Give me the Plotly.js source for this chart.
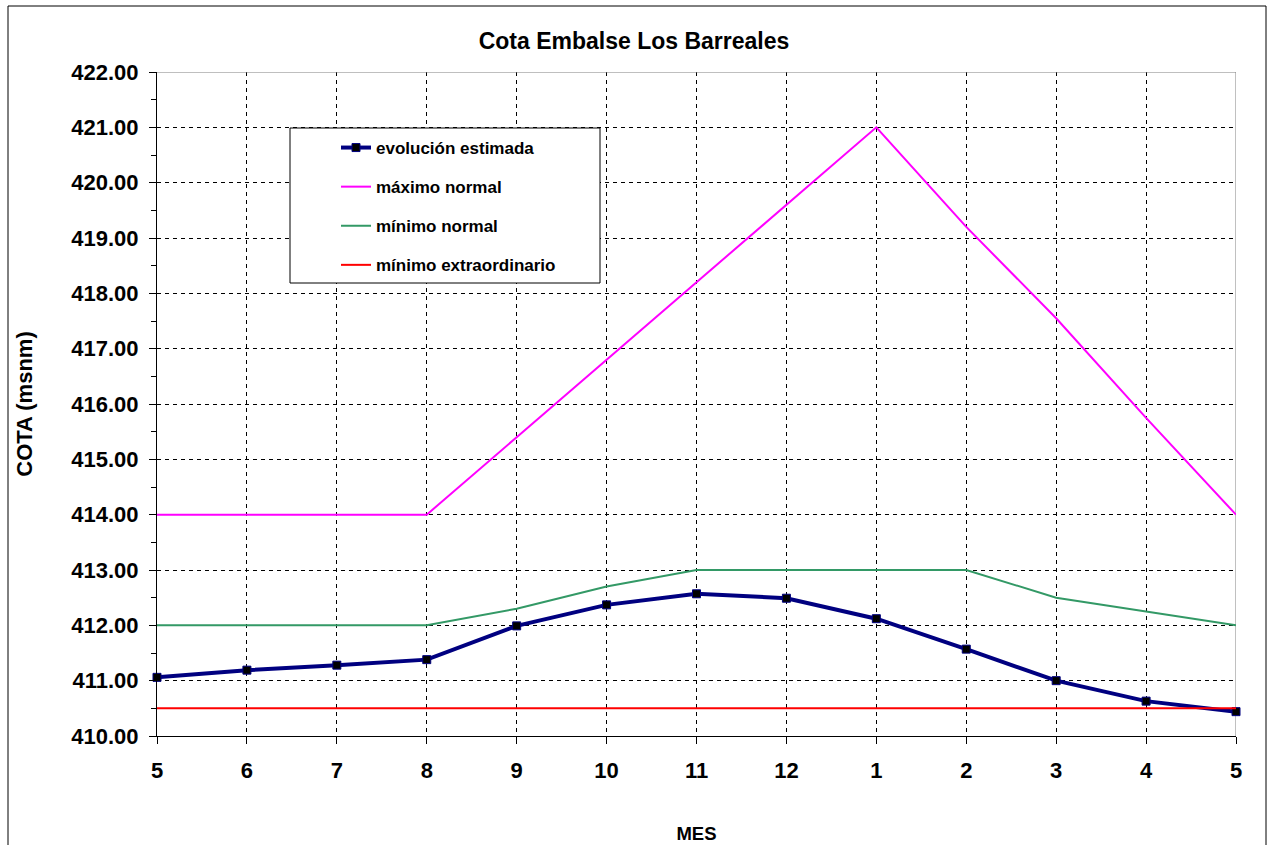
<!DOCTYPE html>
<html>
<head>
<meta charset="utf-8">
<script src="https://cdn.plot.ly/plotly-3.0.1.min.js"></script>
<style>html,body{margin:0;padding:0;background:#fff;}#chart{width:1268px;height:845px;}</style>
</head>
<body>
<div id="chart"></div>
<script>
const months = [5, 6, 7, 8, 9, 10, 11, 12, 1, 2, 3, 4, 5];
const evolucionEstimada = [411.06, 411.19, 411.28, 411.38, 411.99, 412.37, 412.57, 412.49, 412.12, 411.57, 411.00, 410.63, 410.44];
const maximoNormal = [414.0, 414.0, 414.0, 414.0, 415.4, 416.8, 418.2, 419.6, 421.0, 419.2, 417.55, 415.75, 414.0];
const minimoNormal = [412.0, 412.0, 412.0, 412.0, 412.3, 412.7, 413.0, 413.0, 413.0, 413.0, 412.5, 412.25, 412.0];
const minimoExtraordinario = [410.5, 410.5, 410.5, 410.5, 410.5, 410.5, 410.5, 410.5, 410.5, 410.5, 410.5, 410.5, 410.5];
const seriesNames = ['evolución estimada', 'máximo normal', 'mínimo normal', 'mínimo extraordinario'];
const tickLabels = months.map(String);

const xIdx = months.map((m, i) => i);
const FONT = 'Liberation Sans, Arial, sans-serif';

const traces = [
  {x: xIdx, y: evolucionEstimada, name: seriesNames[0], mode: 'lines+markers', legendgroup: 'a', cliponaxis: false,
   line: {color: '#000080', width: 4}, marker: {symbol: 'square', size: 8, color: '#000000', line: {color: '#000080', width: 1}}},
  {x: xIdx, y: maximoNormal, name: seriesNames[1], mode: 'lines', legendgroup: 'b',
   line: {color: '#FF00FF', width: 2}},
  {x: xIdx, y: minimoNormal, name: seriesNames[2], mode: 'lines', legendgroup: 'c',
   line: {color: '#339966', width: 2}},
  {x: xIdx, y: minimoExtraordinario, name: seriesNames[3], mode: 'lines', legendgroup: 'd',
   line: {color: '#FF0000', width: 2}}
];

const W = 1079, H = 664, L = 157, T = 72;
const px = v => (v - L) / W;
const py = v => (T + H - v) / H;
// pixel -> data helpers for decorative boxes
const dx = v => (v - L) / W * 12;
const dy = v => 422 - (v - T) / H * 12;

const layout = {
  width: 1268, height: 845,
  margin: {l: L, r: 32, t: T, b: 109},
  paper_bgcolor: '#ffffff', plot_bgcolor: '#ffffff',
  font: {family: FONT, color: '#000'},
  title: {text: '<b>Cota Embalse Los Barreales</b>', font: {family: FONT, size: 23, color: '#000'},
          x: 0.5, xref: 'container', xanchor: 'center', y: 1 - 41/845, yref: 'container', yanchor: 'middle'},
  xaxis: {
    range: [0, 12], tickmode: 'array', tickvals: xIdx, ticktext: tickLabels,
    showgrid: true, gridcolor: '#000', gridwidth: 1, griddash: '4px,4px',
    showline: true, linecolor: '#000', linewidth: 1,
    ticks: 'outside', ticklen: 7, tickcolor: '#000', tickwidth: 1,
    ticklabelstandoff: 8,
    tickfont: {family: FONT, size: 22, color: '#000', weight: 'bold'},
    zeroline: false,
    title: {text: '<b>MES</b>', font: {family: FONT, size: 18.5, color: '#000'}, standoff: 44}
  },
  yaxis: {
    range: [410, 422], dtick: 1, tick0: 410, tickformat: '.2f',
    showgrid: true, gridcolor: '#000', gridwidth: 1, griddash: '4px,4px',
    showline: true, linecolor: '#000', linewidth: 1,
    ticks: 'outside', ticklen: 7, tickcolor: '#000', tickwidth: 1,
    ticklabelstandoff: 6,
    minor: {dtick: 0.5, ticks: 'outside', ticklen: 5, tickcolor: '#000', showgrid: false},
    tickfont: {family: FONT, size: 22, color: '#000', weight: 'bold'},
    zeroline: false,
    title: {text: '<b>COTA (msnm)</b>', font: {family: FONT, size: 22, color: '#000'}, standoff: 32}
  },
  showlegend: true,
  legend: {
    x: px(336), y: py(130), xanchor: 'left', yanchor: 'top',
    bgcolor: 'rgba(0,0,0,0)', borderwidth: 0,
    traceorder: 'grouped', tracegroupgap: 14,
    font: {family: FONT, size: 17, color: '#000', weight: 'bold'}
  },
  shapes: [
    {type: 'rect', xref: 'paper', yref: 'paper', x0: px(8), x1: px(1266), y0: py(6), y1: py(860),
     line: {color: '#000', width: 1}, fillcolor: 'rgba(0,0,0,0)', layer: 'below'},
    {type: 'line', xref: 'x', yref: 'y', x0: 0, x1: 12, y0: 422, y1: 422,
     line: {color: '#808080', width: 1}, layer: 'between'},
    {type: 'line', xref: 'x', yref: 'y', x0: 12, x1: 12, y0: 410, y1: 422,
     line: {color: '#808080', width: 1}, layer: 'between'},
    {type: 'rect', xref: 'x', yref: 'y', x0: dx(290), x1: dx(600), y0: dy(128), y1: dy(283),
     line: {color: '#000', width: 1}, fillcolor: '#ffffff', layer: 'between'}
  ]
};

Plotly.newPlot('chart', traces, layout, {displayModeBar: false, staticPlot: true});
</script>
</body>
</html>
